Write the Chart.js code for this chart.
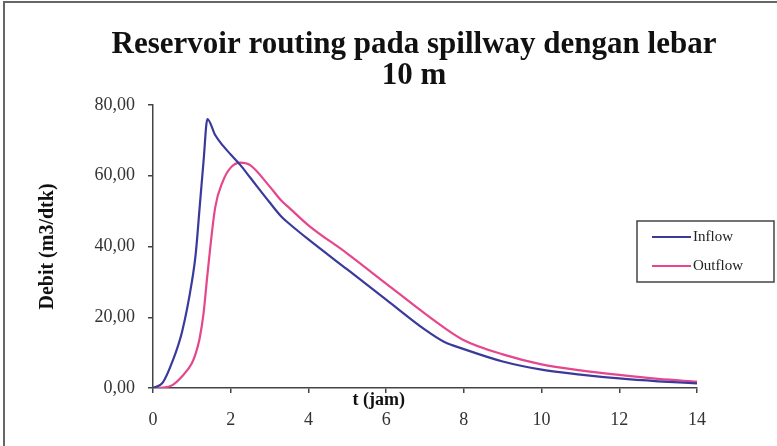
<!DOCTYPE html>
<html>
<head>
<meta charset="utf-8">
<script src="https://cdn.jsdelivr.net/npm/chart.js@4"></script>
<style>
  html, body { margin: 0; padding: 0; background: #fff; }
  #wrap { width: 777px; height: 446px; position: relative; }
</style>
</head>
<body>
<div id="wrap"><canvas id="myChart" width="777" height="446"></canvas></div>
<script>
// values (t in jam, debit in m3/dtk)
const timeHours = [0, 0.25, 0.5, 0.75, 1.0, 1.1, 1.2, 1.3, 1.4, 1.6, 1.8, 2.0, 2.25, 2.5, 3.0, 3.3, 3.5, 4, 5, 6, 7, 7.5, 8, 9, 10, 11, 12, 13, 14];
const inflow =    [0, 1.5, 7.5, 16, 30, 38, 51, 64, 76, 71.5, 68.5, 66, 63, 59.5, 52.5, 48.5, 46.5, 42, 33.5, 25, 16.5, 13, 11, 7.5, 5.2, 3.8, 2.7, 1.9, 1.3];
const outflow =   [0, 0.1, 0.8, 3.3, 7, 9.8, 14, 21, 32, 51, 58.5, 62.3, 63.7, 63, 57, 53, 51, 46, 38, 29.5, 21, 17, 13.5, 9.5, 6.7, 5, 3.7, 2.6, 1.8];
const seriesNames = ["Inflow", "Outflow"];
const xTicks = [0, 2, 4, 6, 8, 10, 12, 14];
const yTicks = [0, 20, 40, 60, 80];
const titleLines = ["Reservoir routing pada spillway dengan lebar", "10 m"];

const serif = "'Liberation Serif', 'Times New Roman', serif";

const toPoints = vals => vals.map((v, i) => ({ x: timeHours[i], y: v }));

// frame around the whole chart (only top/left visible in the scan)
const framePlugin = {
  id: "frame",
  beforeDraw(chart) {
    const c = chart.ctx;
    c.save();
    c.fillStyle = "#fff";
    c.fillRect(0, 0, chart.width, chart.height);
    c.strokeStyle = "#666";
    c.lineWidth = 2;
    c.beginPath();
    c.moveTo(4, chart.height);
    c.lineTo(4, 2);
    c.lineTo(chart.width, 2);
    c.stroke();
    c.restore();
  }
};

// title is centred a bit right of the plot, so draw it by hand
const titlePlugin = {
  id: "bigTitle",
  afterDraw(chart) {
    const c = chart.ctx;
    c.save();
    c.font = "bold 31px " + serif;
    c.fillStyle = "#111";
    c.textAlign = "center";
    c.textBaseline = "middle";
    titleLines.forEach((line, i) => c.fillText(line, 414, 45 + i * 31));
    c.restore();
  }
};

// x-axis title sits between the axis and the tick labels, like excel put it
const xTitlePlugin = {
  id: "xTitle",
  afterDraw(chart) {
    const a = chart.chartArea;
    const c = chart.ctx;
    c.save();
    c.font = "bold 18px " + serif;
    c.fillStyle = "#111";
    c.textAlign = "center";
    c.textBaseline = "middle";
    c.fillText("t (jam)", a.left + (a.right - a.left) * 0.415, a.bottom + 12);
    c.restore();
  }
};

// boxed legend overlapping the plot on the right
const boxLegendPlugin = {
  id: "boxLegend",
  afterDraw(chart) {
    const c = chart.ctx;
    const box = { x: 637, y: 221, w: 137, h: 61 };
    c.save();
    c.strokeStyle = "#444";
    c.lineWidth = 1.5;
    c.fillStyle = "#fff";
    c.fillRect(box.x, box.y, box.w, box.h);
    c.strokeRect(box.x, box.y, box.w, box.h);
    c.font = "15px " + serif;
    c.textBaseline = "middle";
    chart.data.datasets.forEach((ds, i) => {
      const y = box.y + 16 + i * 29;
      c.strokeStyle = ds.borderColor;
      c.lineWidth = 2;
      c.beginPath();
      c.moveTo(box.x + 15, y);
      c.lineTo(box.x + 54, y);
      c.stroke();
      c.fillStyle = "#222";
      c.fillText(ds.label, box.x + 56, y);
    });
    c.restore();
  }
};

const ctx = document.getElementById("myChart").getContext("2d");

const myChart = new Chart(ctx, {
  type: "line",
  data: {
    datasets: [
      {
        label: seriesNames[0],
        data: toPoints(inflow),
        borderColor: "#3a3a9c",
        borderWidth: 2.2,
        pointRadius: 0,
        fill: false,
        cubicInterpolationMode: "monotone"
      },
      {
        label: seriesNames[1],
        data: toPoints(outflow),
        borderColor: "#e5468c",
        borderWidth: 2.2,
        pointRadius: 0,
        fill: false,
        cubicInterpolationMode: "monotone"
      }
    ]
  },
  options: {
    responsive: false,
    animation: false,
    layout: { padding: { left: 10, right: 80, top: 105, bottom: 4 } },
    plugins: {
      legend: { display: false },
      tooltip: { enabled: false },
      title: { display: false }
    },
    scales: {
      x: {
        type: "linear",
        min: 0,
        max: 14,
        afterBuildTicks: s => { s.ticks = xTicks.map(v => ({ value: v })); },
        afterFit: s => { s.height = 54; },
        border: { display: true, color: "#444", width: 1.5 },
        grid: { drawOnChartArea: false, drawTicks: true, tickLength: 5, color: "#444", lineWidth: 1.5 },
        ticks: {
          color: "#333",
          padding: 16,
          maxRotation: 0,
          font: { family: serif, size: 18 }
        }
      },
      y: {
        min: 0,
        max: 80,
        afterBuildTicks: s => { s.ticks = yTicks.map(v => ({ value: v })); },
        afterFit: s => { s.width = 143; },
        border: { display: true, color: "#444", width: 1.5 },
        grid: { drawOnChartArea: false, drawTicks: true, tickLength: 5, color: "#444", lineWidth: 1.5 },
        ticks: {
          color: "#333",
          padding: 13,
          font: { family: serif, size: 18 },
          callback: v => v.toFixed(2).replace(".", ",")
        },
        title: {
          display: true,
          text: "Debit (m3/dtk)",
          color: "#111",
          font: { family: serif, size: 20, weight: "bold" },
          padding: { top: 26, bottom: 0 }
        }
      }
    }
  },
  plugins: [framePlugin, titlePlugin, xTitlePlugin, boxLegendPlugin]
});
</script>
</body>
</html>
